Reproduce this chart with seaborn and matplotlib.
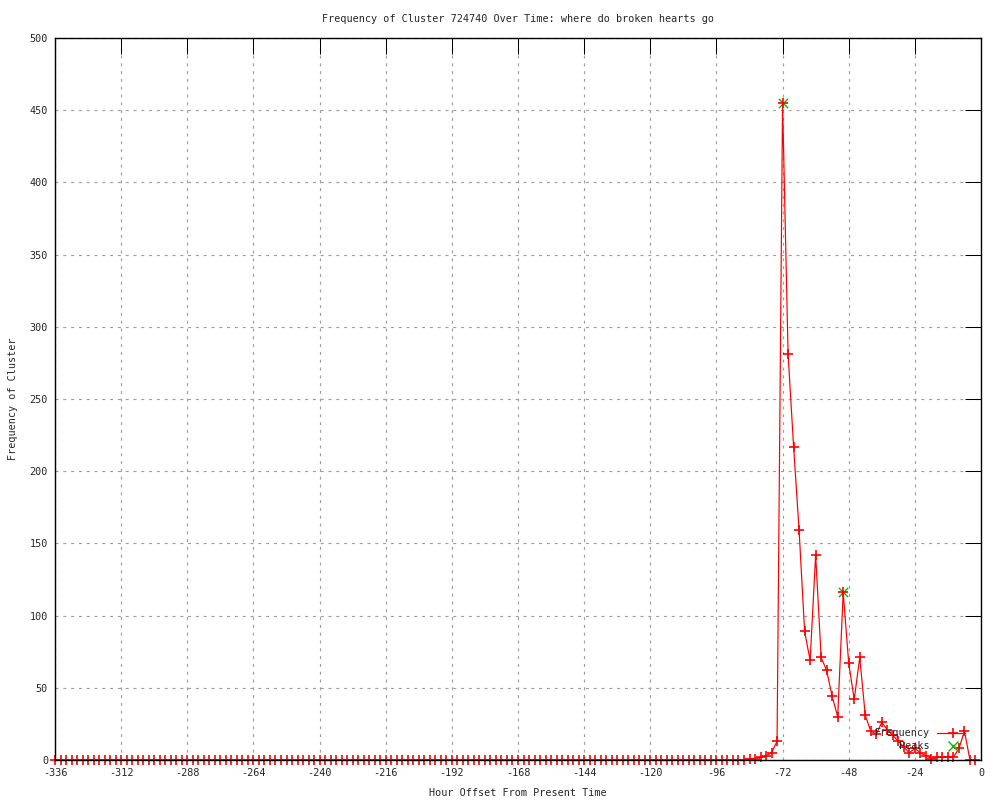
import matplotlib
matplotlib.use("Agg")
import matplotlib.pyplot as plt
from matplotlib.lines import Line2D
import seaborn as sns
import pandas as pd

# ---- data ----
hours = list(range(-336, 0, 2))  # every 2 hours, -336 .. -2
frequency = [
    # -336 .. -290
    0, 0, 0, 0, 0, 0, 0, 0, 0, 0, 0, 0, 0, 0, 0, 0, 0, 0, 0, 0, 0, 0, 0, 0,
    # -288 .. -242
    0, 0, 0, 0, 0, 0, 0, 0, 0, 0, 0, 0, 0, 0, 0, 0, 0, 0, 0, 0, 0, 0, 0, 0,
    # -240 .. -194
    0, 0, 0, 0, 0, 0, 0, 0, 0, 0, 0, 0, 0, 0, 0, 0, 0, 0, 0, 0, 0, 0, 0, 0,
    # -192 .. -146
    0, 0, 0, 0, 0, 0, 0, 0, 0, 0, 0, 0, 0, 0, 0, 0, 0, 0, 0, 0, 0, 0, 0, 0,
    # -144 .. -98
    0, 0, 0, 0, 0, 0, 0, 0, 0, 0, 0, 0, 0, 0, 0, 0, 0, 0, 0, 0, 0, 0, 0, 0,
    # -96 .. -74
    0, 0, 0, 0, 0, 0, 1, 1, 2, 3, 5, 13,
    # -72 .. -50
    455, 281, 217, 159, 89, 69, 142, 71, 62, 44, 30, 116,
    # -48 .. -26
    67, 42, 71, 31, 20, 18, 26, 21, 17, 13, 9, 5,
    # -24 .. -2
    8, 5, 3, 1, 2, 2, 2, 2, 8, 20, 0, 0,
]
peak_hours = [-72, -50]
peak_values = [455, 116]

x_ticks = [-336, -312, -288, -264, -240, -216, -192, -168, -144, -120, -96, -72, -48, -24, 0]
y_ticks = [0, 50, 100, 150, 200, 250, 300, 350, 400, 450, 500]

title = "Frequency of Cluster 724740 Over Time: where do broken hearts go"
x_label = "Hour Offset From Present Time"
y_label = "Frequency of Cluster"
series_labels = ["Frequency", "Peaks"]

df = pd.DataFrame({"hour": hours, "freq": frequency})
peaks = pd.DataFrame({"hour": peak_hours, "freq": peak_values})

# ---- style ----
sns.set_style("white")
plt.rcParams["font.family"] = ["DejaVu Sans Mono"]
FS = 7.3
PX = 0.72  # one pixel in points at 100 dpi

fig = plt.figure(figsize=(10, 8), dpi=100)
ax = fig.add_axes([55 / 1000, 40 / 800, (981 - 55) / 1000, (760 - 38) / 800])

ax.set_xlim(-336, 0)
ax.set_ylim(0, 500)

# peaks first (beneath the red line)
sns.scatterplot(data=peaks, x="hour", y="freq", ax=ax, marker="x", color="#00c000",
                s=45, linewidth=1.0, zorder=3, legend=False, clip_on=False)
sns.lineplot(data=df, x="hour", y="freq", ax=ax, color="#ff0000", lw=PX * 1.2,
             marker="+", markersize=7.5, markeredgewidth=1.2, markeredgecolor="#ff0000",
             zorder=4, legend=False, clip_on=False)

ax.set_xticks(x_ticks)
ax.set_yticks(y_ticks)
ax.set_xticklabels([str(v) for v in x_ticks], fontsize=FS)
ax.set_yticklabels([str(v) for v in y_ticks], fontsize=FS)
ax.tick_params(axis="both", direction="in", length=11.5, width=PX, color="black",
               top=True, right=True)
ax.tick_params(axis="x", pad=6)
ax.tick_params(axis="y", pad=5)

ax.grid(True, color="#a0a0a0", linestyle=(0, (2.5, 4)), linewidth=PX * 1.2)
ax.set_axisbelow(True)
for sp in ax.spines.values():
    sp.set_visible(True)
    sp.set_color("black")
    sp.set_linewidth(PX * 1.4)
    sp.set_zorder(5)

ax.set_xlabel("")
ax.set_ylabel("")

fig.text(518 / 1000, 1 - 19 / 800, title, ha="center", va="center", fontsize=FS)
fig.text(518 / 1000, 1 - 793 / 800, x_label, ha="center", va="center", fontsize=FS)
fig.text(13 / 1000, 1 - 399 / 800, y_label, ha="center", va="center", rotation=90, fontsize=FS)

# gnuplot-style key (right-justified text, sample to the right)
fig.text(930 / 1000, 1 - 733 / 800, series_labels[0], ha="right", va="center", fontsize=FS)
fig.text(930 / 1000, 1 - 746 / 800, series_labels[1], ha="right", va="center", fontsize=FS)
fig.add_artist(Line2D([937 / 1000, 965 / 1000], [1 - 733 / 800, 1 - 733 / 800],
                      color="#ff0000", lw=PX * 1.2, transform=fig.transFigure))
fig.add_artist(Line2D([953 / 1000], [1 - 733 / 800], color="#ff0000", marker="+",
                      markersize=7.5, markeredgewidth=1.2, lw=0, transform=fig.transFigure))
fig.add_artist(Line2D([953 / 1000], [1 - 746 / 800], color="#00c000", marker="x",
                      markersize=6.5, markeredgewidth=1.0, lw=0, transform=fig.transFigure))

fig.savefig("out.png", dpi=100)
